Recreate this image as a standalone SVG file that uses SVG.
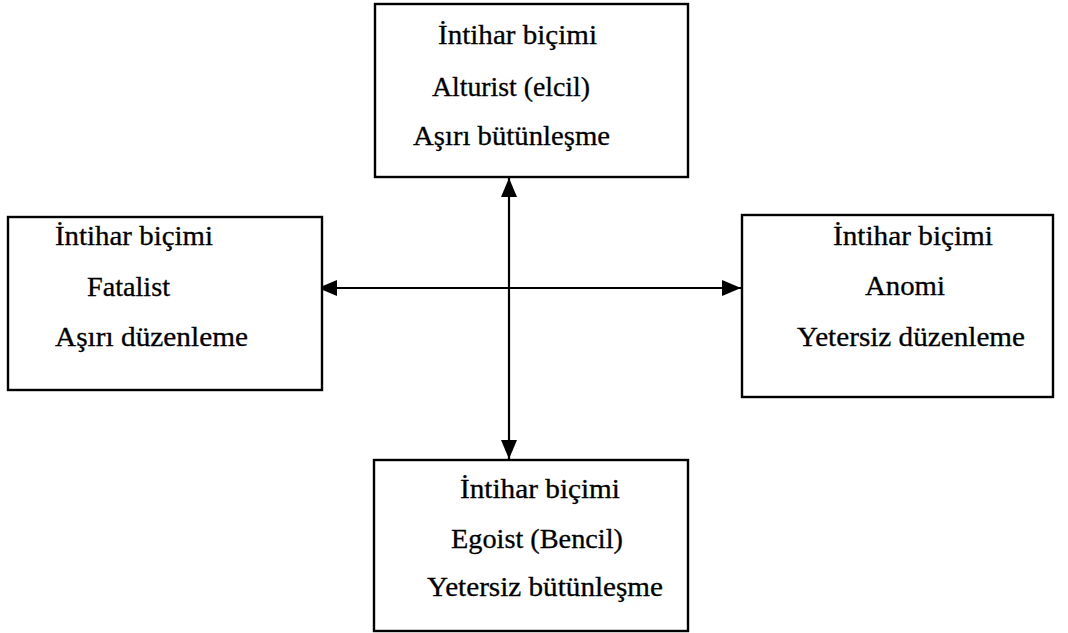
<svg xmlns="http://www.w3.org/2000/svg" width="1068" height="633" viewBox="0 0 1068 633">
<style>
.box{fill:#fff;stroke:#000;stroke-width:2.4}
.t{font-family:"Liberation Serif","Times New Roman",serif;font-size:27px;fill:#000;stroke:#000;stroke-width:0.3}
.c{stroke:#000;stroke-width:2.2;fill:none}
</style>
<defs>
<marker id="ah" markerUnits="userSpaceOnUse" markerWidth="22" markerHeight="18" refX="19" refY="8" orient="auto-start-reverse" viewBox="0 0 22 18">
<path d="M0,0 L19,8 L0,16 z" fill="#000"/>
</marker>
</defs>
<rect width="1068" height="633" fill="#fff"/>
<g id="connectors">
<line class="c" x1="509" y1="178" x2="509" y2="459" marker-start="url(#ah)" marker-end="url(#ah)"/>
<line class="c" x1="318" y1="288" x2="741" y2="288" marker-start="url(#ah)" marker-end="url(#ah)"/>
</g>
<g id="node-top">
<rect class="box" x="375" y="4" width="313" height="173"/>
<text class="t" x="438" y="44" textLength="159" lengthAdjust="spacingAndGlyphs">İntihar biçimi</text>
<text class="t" x="432" y="96" textLength="158" lengthAdjust="spacingAndGlyphs">Alturist (elcil)</text>
<text class="t" x="413" y="145" textLength="197" lengthAdjust="spacingAndGlyphs">Aşırı bütünleşme</text>
</g>
<g id="node-left">
<rect class="box" x="8" y="217" width="314" height="173"/>
<text class="t" x="55" y="245" textLength="158" lengthAdjust="spacingAndGlyphs">İntihar biçimi</text>
<text class="t" x="87" y="296" textLength="83" lengthAdjust="spacingAndGlyphs">Fatalist</text>
<text class="t" x="55" y="346" textLength="193" lengthAdjust="spacingAndGlyphs">Aşırı düzenleme</text>
</g>
<g id="node-right">
<rect class="box" x="742" y="215" width="311" height="182"/>
<text class="t" x="833" y="245" textLength="160" lengthAdjust="spacingAndGlyphs">İntihar biçimi</text>
<text class="t" x="865" y="295" textLength="80" lengthAdjust="spacingAndGlyphs">Anomi</text>
<text class="t" x="797" y="346" textLength="228" lengthAdjust="spacingAndGlyphs">Yetersiz düzenleme</text>
</g>
<g id="node-bottom">
<rect class="box" x="374" y="460" width="314" height="171"/>
<text class="t" x="460" y="498" textLength="160" lengthAdjust="spacingAndGlyphs">İntihar biçimi</text>
<text class="t" x="451" y="548" textLength="172" lengthAdjust="spacingAndGlyphs">Egoist (Bencil)</text>
<text class="t" x="427" y="596" textLength="236" lengthAdjust="spacingAndGlyphs">Yetersiz bütünleşme</text>
</g>
</svg>
